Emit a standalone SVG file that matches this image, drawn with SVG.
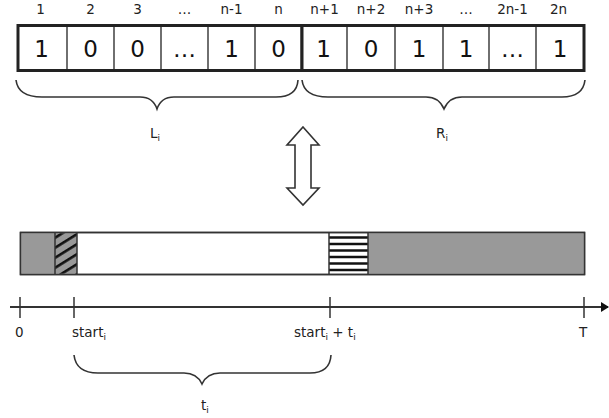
<svg xmlns="http://www.w3.org/2000/svg" width="609" height="418" viewBox="0 0 609 418">
  <style>
    .hdr { font-family: "DejaVu Sans", "Liberation Sans", sans-serif; font-size: 13.5px; fill: #222; text-anchor: middle; }
    .cell { font-family: "DejaVu Sans", "Liberation Sans", sans-serif; font-size: 23px; fill: #111; text-anchor: middle; }
    .lbl { font-family: "DejaVu Sans", "Liberation Sans", sans-serif; font-size: 13.5px; fill: #222; }
    .sub { font-size: 9px; }
    .box { fill: #fff; stroke: #222; stroke-width: 3; }
    .div { stroke: #222; stroke-width: 1.3; }
    .brace { fill: none; stroke: #333; stroke-width: 1.6; }
    .tick { stroke: #333; stroke-width: 1.5; }
  </style>
  <defs>
    <pattern id="diag" width="20" height="8.5" patternUnits="userSpaceOnUse" patternTransform="rotate(-32)">
      <rect width="20" height="8.5" fill="#999"/>
      <rect y="0" width="20" height="2.6" fill="#111"/>
    </pattern>
    <marker id="arr" markerWidth="8" markerHeight="10" refX="7" refY="5" orient="auto" markerUnits="userSpaceOnUse">
      <path d="M0,0 L8,5 L0,10 Z" fill="#111"/>
    </marker>
  </defs>

  <!-- header numbers -->
  <g id="headers">
    <text class="hdr" x="40.6" y="14">1</text>
    <text class="hdr" x="90.5" y="14">2</text>
    <text class="hdr" x="137.5" y="14">3</text>
    <text class="hdr" x="184.5" y="14">…</text>
    <text class="hdr" x="231.5" y="14">n-1</text>
    <text class="hdr" x="278.5" y="14">n</text>
    <text class="hdr" x="324.5" y="14">n+1</text>
    <text class="hdr" x="371" y="14">n+2</text>
    <text class="hdr" x="419" y="14">n+3</text>
    <text class="hdr" x="466" y="14">…</text>
    <text class="hdr" x="512.5" y="14">2n-1</text>
    <text class="hdr" x="558.5" y="14">2n</text>
  </g>

  <!-- left half L_i -->
  <g id="left-box">
    <rect class="box" x="18" y="25.5" width="284" height="45"/>
    <line class="div" x1="67" y1="25.5" x2="67" y2="70.5"/>
    <line class="div" x1="114" y1="25.5" x2="114" y2="70.5"/>
    <line class="div" x1="161" y1="25.5" x2="161" y2="70.5"/>
    <line class="div" x1="208" y1="25.5" x2="208" y2="70.5"/>
    <line class="div" x1="255" y1="25.5" x2="255" y2="70.5"/>
    <text class="cell" x="41.5" y="57">1</text>
    <text class="cell" x="90.5" y="57">0</text>
    <text class="cell" x="137.5" y="57">0</text>
    <text class="cell" x="184.5" y="57">…</text>
    <text class="cell" x="231.5" y="57">1</text>
    <text class="cell" x="278.5" y="57">0</text>
  </g>

  <!-- right half R_i -->
  <g id="right-box">
    <rect class="box" x="302" y="25.5" width="282" height="45"/>
    <line class="div" x1="347" y1="25.5" x2="347" y2="70.5"/>
    <line class="div" x1="395" y1="25.5" x2="395" y2="70.5"/>
    <line class="div" x1="443" y1="25.5" x2="443" y2="70.5"/>
    <line class="div" x1="489" y1="25.5" x2="489" y2="70.5"/>
    <line class="div" x1="536" y1="25.5" x2="536" y2="70.5"/>
    <text class="cell" x="323.5" y="57">1</text>
    <text class="cell" x="371" y="57">0</text>
    <text class="cell" x="419" y="57">1</text>
    <text class="cell" x="466" y="57">1</text>
    <text class="cell" x="512.5" y="57">…</text>
    <text class="cell" x="560" y="57">1</text>
  </g>

  <!-- braces -->
  <g id="braces">
    <path class="brace" d="M16,80 Q18,97 42,97 L140,97 Q153,97 157,109 Q161,97 174,97 L276,97 Q297,97 298,80"/>
    <path class="brace" d="M302,80 Q304,97 328,97 L426,97 Q439,97 444,109 Q449,97 462,97 L562,97 Q583,97 585,80"/>
    <path class="brace" d="M74,355 Q76,373 98,373 L184,373 Q197,373 202,384 Q207,373 220,373 L310,373 Q330,373 331,355"/>
  </g>
  <g id="brace-labels">
    <text class="lbl" x="150" y="138">L<tspan class="sub" dy="3">i</tspan></text>
    <text class="lbl" x="436" y="138">R<tspan class="sub" dy="3">i</tspan></text>
    <text class="lbl" x="201" y="410">t<tspan class="sub" dy="3">i</tspan></text>
  </g>

  <!-- double arrow -->
  <g id="double-arrow">
    <path d="M303,127 L319,145 L311,145 L311,188 L319,188 L303,205 L287,188 L295,188 L295,145 L287,145 Z" fill="#fff" stroke="#333" stroke-width="1.6" stroke-linejoin="miter"/>
  </g>

  <!-- schedule bar -->
  <g id="bar">
    <rect x="20.5" y="232.5" width="564" height="42" fill="#fff" stroke="#333" stroke-width="1.5"/>
    <rect x="21.2" y="233.2" width="33.8" height="40.6" fill="#999"/>
    <rect x="55" y="233.2" width="22" height="40.6" fill="url(#diag)"/>
    <line x1="55" y1="232.5" x2="55" y2="274.5" stroke="#333" stroke-width="1.5"/>
    <line x1="77" y1="232.5" x2="77" y2="274.5" stroke="#333" stroke-width="1.5"/>
    <g stroke="#111" stroke-width="2.6">
      <line x1="329" y1="237.5" x2="368" y2="237.5"/>
      <line x1="329" y1="244" x2="368" y2="244"/>
      <line x1="329" y1="250.5" x2="368" y2="250.5"/>
      <line x1="329" y1="257" x2="368" y2="257"/>
      <line x1="329" y1="263.5" x2="368" y2="263.5"/>
      <line x1="329" y1="270" x2="368" y2="270"/>
    </g>
    <rect x="368" y="233.2" width="215.8" height="40.6" fill="#999"/>
    <line x1="329" y1="232.5" x2="329" y2="274.5" stroke="#333" stroke-width="1.5"/>
    <line x1="368" y1="232.5" x2="368" y2="274.5" stroke="#333" stroke-width="1.5"/>
    <rect x="20.5" y="232.5" width="564" height="42" fill="none" stroke="#333" stroke-width="1.5"/>
  </g>

  <!-- time axis -->
  <g id="connectors">
    <line x1="10" y1="307" x2="608" y2="307" stroke="#333" stroke-width="1.8" marker-end="url(#arr)"/>
    <line class="tick" x1="20" y1="297" x2="20" y2="318"/>
    <line class="tick" x1="74" y1="297" x2="74" y2="318"/>
    <line class="tick" x1="330" y1="297" x2="330" y2="318"/>
    <line class="tick" x1="584" y1="297" x2="584" y2="318"/>
  </g>
  <g id="axis-labels">
    <text class="lbl" x="15" y="337">0</text>
    <text class="lbl" x="72" y="337">start<tspan class="sub" dy="3">i</tspan></text>
    <text class="lbl" x="294" y="337">start<tspan class="sub" dy="3">i</tspan><tspan dy="-3"> + t</tspan><tspan class="sub" dy="3">i</tspan></text>
    <text class="lbl" x="579" y="337">T</text>
  </g>
</svg>
